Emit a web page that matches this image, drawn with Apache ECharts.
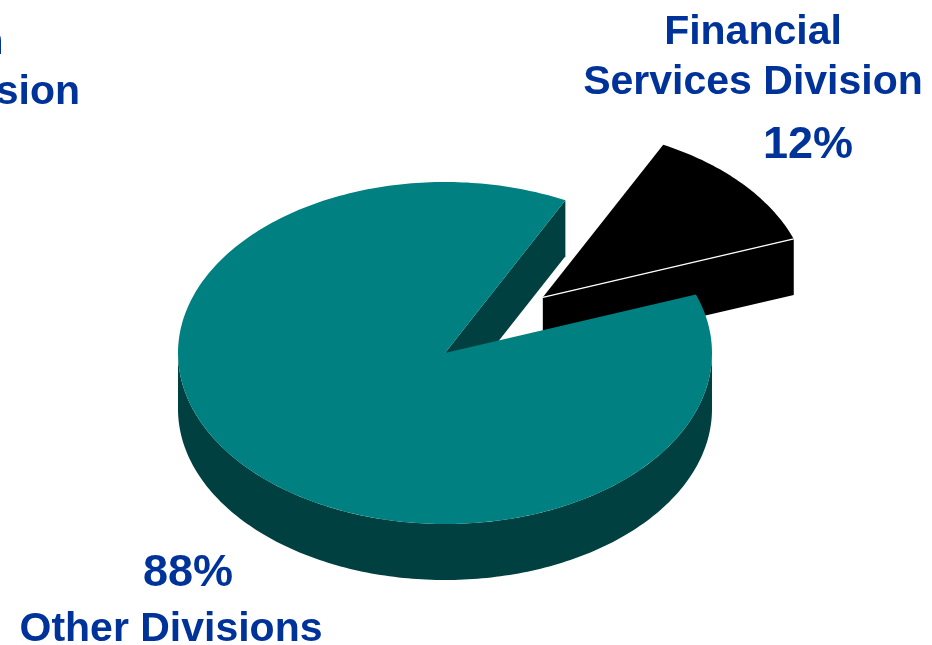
<!DOCTYPE html>
<html>
<head>
<meta charset="utf-8">
<script src="https://cdn.jsdelivr.net/npm/echarts@6/dist/echarts.min.js"></script>
<style>
  html, body { margin: 0; padding: 0; background: #ffffff; }
  #chart { width: 932px; height: 645px; }
</style>
</head>
<body>
<div id="chart"></div>
<script>
// Share of the divisions (percent)
const categories = ['Financial\nServices Division', 'Other Divisions'];
const shares = [12, 88];

// Fragment of a neighbouring label running off the left edge
const sideLabelLines = ['Information', 'Technology Division'];

// 3D pie geometry, in pixels
const CX = 445, CY = 353, RX = 267, RY = 171, DEPTH = 56;
const START_ANGLE = 20;           // degrees; slices run counter-clockwise
const explode = [0.49, 0];        // fraction of the radius each slice is pulled out
const topColors = ['#000000', '#008080'];
const sideColors = ['#000000', '#004040'];
const edgeColors = ['#ffffff', null];

const TEXT_COLOR = '#003399';
const FAMILY = '"Liberation Sans", Arial, Helvetica, sans-serif';
const nameFont = 'bold 41px ' + FAMILY;
const pctFont = 'bold 45px ' + FAMILY;
const labelLayout = [
  { name: [753, 58], pct: [808, 146] },
  { name: [171, 630], pct: [188, 574] }
];

const total = shares.reduce((a, b) => a + b, 0);
const rad = d => d * Math.PI / 180;

function renderSlice(params, api) {
  const i = params.dataIndex;
  let a0 = START_ANGLE;
  for (let k = 0; k < i; k++) a0 += shares[k] / total * 360;
  const a1 = a0 + api.value(0) / total * 360;
  const mid = rad((a0 + a1) / 2);
  const ox = explode[i] * RX * Math.cos(mid);
  const oy = -explode[i] * RY * Math.sin(mid);

  const pt = (deg, z) => [CX + ox + RX * Math.cos(rad(deg)), CY + oy - RY * Math.sin(rad(deg)) + z];
  const apex = z => [CX + ox, CY + oy + z];
  const arc = (from, to, z) => {
    const n = Math.max(2, Math.ceil(Math.abs(to - from)));
    const pts = [];
    for (let s = 0; s <= n; s++) pts.push(pt(from + (to - from) * s / n, z));
    return pts;
  };

  const children = [];

  // curved outer wall, only where it faces the viewer (front half of the rim)
  [[180, 360], [540, 720]].forEach(([lo, hi]) => {
    const f = Math.max(a0, lo), t = Math.min(a1, hi);
    if (t > f) {
      children.push({
        type: 'polygon',
        shape: { points: arc(f, t, 0).concat(arc(t, f, DEPTH)) },
        style: { fill: sideColors[i] }
      });
    }
  });

  // flat radial faces of the cut
  const cutFace = deg => ({
    type: 'polygon',
    shape: { points: [apex(0), pt(deg, 0), pt(deg, DEPTH), apex(DEPTH)] },
    style: { fill: sideColors[i] }
  });
  const startVisible = Math.cos(rad(a0)) > 0;
  const endVisible = Math.cos(rad(a1)) < 0;
  if (startVisible) children.push(cutFace(a0));
  if (endVisible) children.push(cutFace(a1));

  // top face
  children.push({
    type: 'polygon',
    shape: { points: [apex(0)].concat(arc(a0, a1, 0)) },
    style: { fill: topColors[i] }
  });

  // light edge between the top and the visible cut face
  if (edgeColors[i]) {
    [[startVisible, a0], [endVisible, a1]].forEach(([vis, deg]) => {
      if (vis) {
        const p = apex(0), q = pt(deg, 0);
        children.push({
          type: 'line',
          shape: { x1: p[0], y1: p[1], x2: q[0], y2: q[1] },
          style: { stroke: edgeColors[i], lineWidth: 1.2 }
        });
      }
    });
  }

  // labels
  const lay = labelLayout[i];
  children.push({
    type: 'text',
    x: lay.name[0], y: lay.name[1],
    style: {
      text: categories[i], font: nameFont, fill: TEXT_COLOR,
      align: 'center', verticalAlign: 'middle', lineHeight: 50
    }
  });
  children.push({
    type: 'text',
    x: lay.pct[0], y: lay.pct[1],
    style: {
      text: api.value(0) + '%', font: pctFont, fill: TEXT_COLOR,
      align: 'center', verticalAlign: 'middle'
    }
  });

  return { type: 'group', children: children };
}

const chart = echarts.init(document.getElementById('chart'), null, { renderer: 'canvas' });
chart.setOption({
  backgroundColor: '#ffffff',
  animation: false,
  graphic: [
    {
      type: 'text', x: 3.5, y: 43, silent: true,
      style: { text: sideLabelLines[0], font: nameFont, fill: TEXT_COLOR, align: 'right', verticalAlign: 'middle' }
    },
    {
      type: 'text', x: 80, y: 93, silent: true,
      style: { text: sideLabelLines[1], font: nameFont, fill: TEXT_COLOR, align: 'right', verticalAlign: 'middle' }
    }
  ],
  series: [{
    type: 'custom',
    coordinateSystem: 'none',
    data: shares,
    renderItem: renderSlice,
    silent: true
  }]
});
</script>
</body>
</html>
